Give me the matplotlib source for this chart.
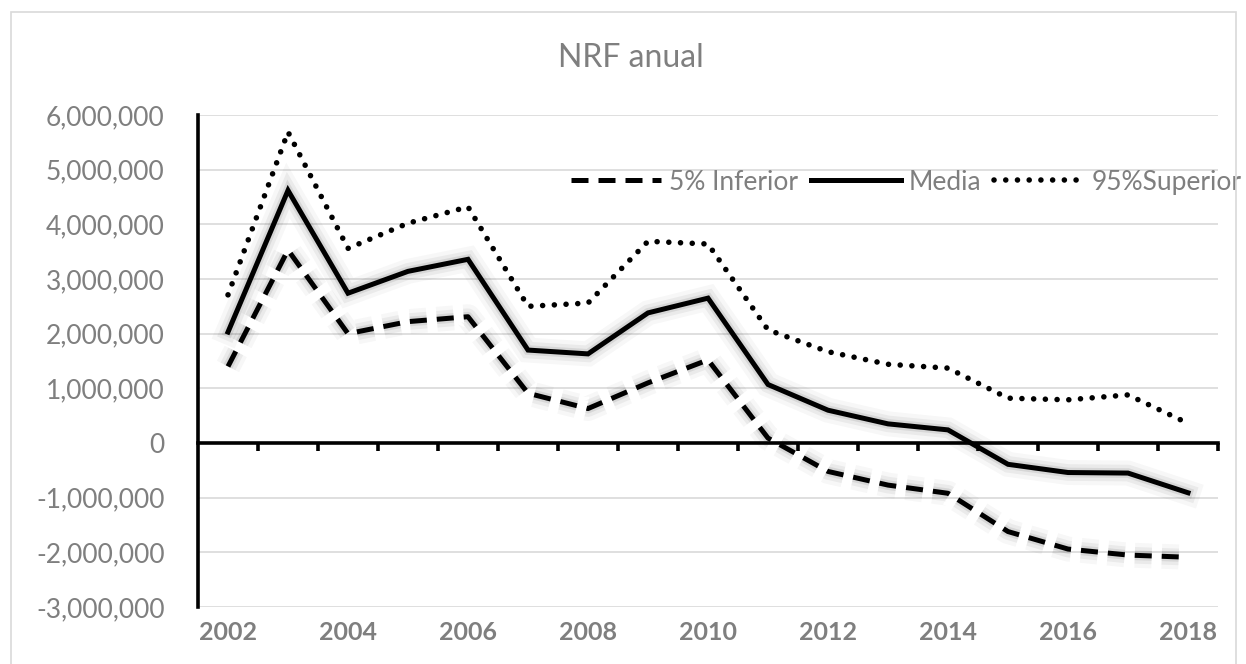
import numpy as np
import matplotlib
matplotlib.use("Agg")
import matplotlib.pyplot as plt
import matplotlib.patheffects as pe
from matplotlib.ticker import FuncFormatter

years = list(range(2002, 2019))
media = [2.03e6, 4.62e6, 2.74e6, 3.14e6, 3.36e6, 1.70e6, 1.63e6, 2.38e6, 2.65e6,
         1.07e6, 0.60e6, 0.35e6, 0.24e6, -0.39e6, -0.54e6, -0.55e6, -0.91e6]
inferior = [1.40e6, 3.53e6, 2.00e6, 2.22e6, 2.31e6, 0.91e6, 0.63e6, 1.10e6, 1.52e6,
            0.09e6, -0.52e6, -0.77e6, -0.92e6, -1.62e6, -1.94e6, -2.05e6, -2.09e6]
superior = [2.71e6, 5.69e6, 3.56e6, 4.02e6, 4.32e6, 2.50e6, 2.56e6, 3.69e6, 3.64e6,
            2.07e6, 1.67e6, 1.44e6, 1.37e6, 0.82e6, 0.79e6, 0.88e6, 0.36e6]
series_names = ["5% Inferior", "Media", "95%Superior"]

gray = "#7f7f7f"
plt.rcParams['font.family'] = ['Lato', 'DejaVu Sans']

fig = plt.figure(figsize=(12.46, 6.64), dpi=100)
# chart area border
fig.patches.append(plt.Rectangle((11 / 1246, -0.01), 1225 / 1246, (664 - 12) / 664 + 0.01,
                                 transform=fig.transFigure, fill=False,
                                 edgecolor="#d9d9d9", linewidth=1.2))

ax = fig.add_axes([198 / 1246, 57 / 664, 1020 / 1246, 492 / 664])
x = np.arange(len(years))

glow = [pe.Stroke(linewidth=18, foreground="#000000", alpha=0.03),
        pe.Stroke(linewidth=12, foreground="#000000", alpha=0.05),
        pe.Stroke(linewidth=7, foreground="#000000", alpha=0.08),
        pe.Normal()]

ax.plot(x, inferior, color="black", linewidth=3.6, linestyle=(0, (3.4, 2.0)),
        label=series_names[0], zorder=4, path_effects=glow)
ax.plot(x, media, color="black", linewidth=3.6, solid_joinstyle="miter",
        label=series_names[1], zorder=5, path_effects=glow)
ax.plot(x, superior, color="black", linewidth=4.0, linestyle=(0, (0.01, 2.1)),
        dash_capstyle="round", label=series_names[2], zorder=4)

ax.set_xlim(-0.5, len(years) - 0.5)
ax.set_ylim(-3e6, 6e6)
ax.set_yticks(np.arange(-3e6, 6e6 + 1, 1e6))
ax.yaxis.set_major_formatter(FuncFormatter(lambda v, p: f"{v:,.0f}"))
ax.tick_params(axis="y", length=0, pad=24, labelsize=19, labelcolor=gray)
ax.grid(axis="y", color="#d9d9d9", linewidth=1.2, zorder=0)
ax.set_axisbelow(True)

for s in ["top", "right"]:
    ax.spines[s].set_visible(False)
ax.spines["left"].set_linewidth(2.6)
ax.spines["bottom"].set_position(("data", 0))
ax.spines["bottom"].set_linewidth(2.6)
ax.spines["bottom"].set_zorder(3)
ax.set_xticks(np.append(x[:-1] + 0.5, len(years) - 0.5))
ax.tick_params(axis="x", direction="out", length=6, width=2.6, labelbottom=False)

sec = ax.secondary_xaxis("bottom")
sec.set_xticks(x[::2])
sec.set_xticklabels([str(y) for y in years[::2]])
sec.tick_params(axis="x", length=0, pad=10, labelsize=18, labelcolor=gray)
for lbl in sec.get_xticklabels():
    lbl.set_fontweight("bold")
sec.spines["bottom"].set_visible(False)

fig.text(631 / 1246, 1 - 58 / 664, "NRF anual", ha="center", va="center",
         fontsize=23, color=gray)

leg = ax.legend(loc="center right", bbox_to_anchor=(1242 / 1246, 1 - 182 / 664),
                bbox_transform=fig.transFigure, ncol=3, frameon=False,
                fontsize=19, handlelength=3.4, handletextpad=0.3, columnspacing=0.5,
                borderaxespad=0, borderpad=0)
for t in leg.get_texts():
    t.set_color(gray)
for h in leg.legend_handles:
    h.set_path_effects([])

fig.savefig("out.png", dpi=100)
